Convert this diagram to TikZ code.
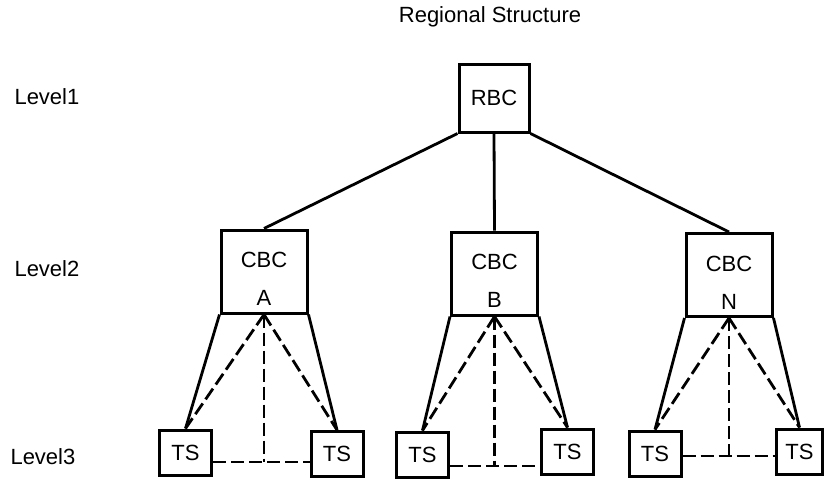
\documentclass[tikz,border=0pt]{standalone}
\usepackage{fontspec}
\setmainfont{Liberation Sans}

\begin{document}
\begin{tikzpicture}[x=1pt,y=-1pt,
    every node/.style={font=\fontsize{22}{26}\selectfont},
    box/.style={draw, line width=3pt, inner sep=0pt},
    rbcbox/.style={box, minimum width=70pt, minimum height=68pt},
    cbcbox/.style={box, minimum width=86pt, minimum height=83pt},
    tsbox/.style={box, minimum width=52pt, minimum height=45pt},
    link/.style={line width=2.8pt},
    dashlink/.style={line width=2.8pt, dash pattern=on 13pt off 5pt}]
  \useasboundingbox (0,0) rectangle (824,483);
  \node (title) at (490,17) {Regional Structure};
  \node[anchor=west] (lev1) at (11,97) {Level1};
  \node[anchor=west] (lev2) at (11,269) {Level2};
  \node[anchor=west] (lev3) at (7,457) {Level3};
  % boxes
  \node[rbcbox] (rbc) at (494,98) {RBC};
  \node[cbcbox] (cbcA) at (264,271.5) {};
  \node[cbcbox] (cbcB) at (494.5,273.5) {};
  \node[cbcbox] (cbcN) at (729,275) {};
  \node[align=center] (cbcAtxt) at (264,279) {CBC\\[12pt]A};
  \node[align=center] (cbcBtxt) at (494.5,281) {CBC\\[12pt]B};
  \node[align=center] (cbcNtxt) at (729,282.5) {CBC\\[12pt]N};
  \node[tsbox] (tsA1) at (185.5,452.5) {TS};
  \node[tsbox] (tsA2) at (337,454) {TS};
  \node[tsbox] (tsB1) at (422.5,454.5) {TS};
  \node[tsbox] (tsB2) at (567.5,451.5) {TS};
  \node[tsbox] (tsN1) at (655,453.5) {TS};
  \node[tsbox, minimum width=46pt] (tsN2) at (799.5,451.5) {TS};
  % level 1 -> level 2
  \draw[link] (rbc.south west) -- (cbcA.north);
  \draw[link] (rbc.south) -- (cbcB.north);
  \draw[link] (rbc.south east) -- (cbcN.north);
  % level 2 -> level 3
  \coordinate (jA) at (cbcA.south |- 0,462);
  \coordinate (jB) at (cbcB.south |- 0,466);
  \coordinate (jN) at (cbcN.south |- 0,456);
  \draw[link] (cbcA.south west) -- (tsA1.north);
  \draw[link] (cbcA.south east) -- (tsA2.north);
  \draw[dashlink] (cbcA.south) -- (tsA1.north);
  \draw[dashlink] (cbcA.south) -- (tsA2.north);
  \draw[dashlink] (cbcA.south) -- (jA);
  \draw[dashlink] (tsA1.east |- jA) -- (tsA2.west |- jA);
  \draw[link] (cbcB.south west) -- (tsB1.north);
  \draw[link] (cbcB.south east) -- (tsB2.north);
  \draw[dashlink] (cbcB.south) -- (tsB1.north);
  \draw[dashlink] (cbcB.south) -- (tsB2.north);
  \draw[dashlink] (cbcB.south) -- (jB);
  \draw[dashlink] (tsB1.east |- jB) -- (tsB2.west |- jB);
  \draw[link] (cbcN.south west) -- (tsN1.north);
  \draw[link] (cbcN.south east) -- (tsN2.north);
  \draw[dashlink] (cbcN.south) -- (tsN1.north);
  \draw[dashlink] (cbcN.south) -- (tsN2.north);
  \draw[dashlink] (cbcN.south) -- (jN);
  \draw[dashlink] (tsN1.east |- jN) -- (tsN2.west |- jN);
\end{tikzpicture}
\end{document}
